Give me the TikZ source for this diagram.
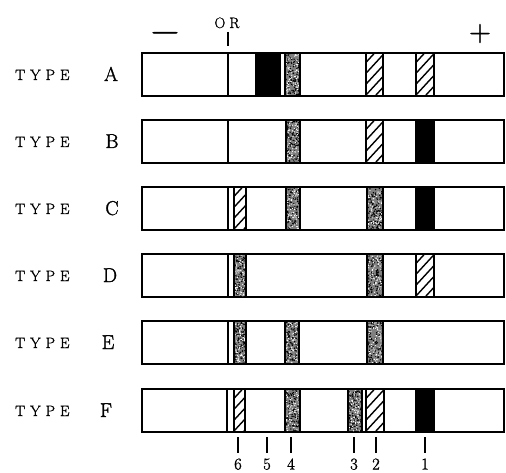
\documentclass[tikz,border=0pt]{standalone}
\usepackage{fontspec}
\setmainfont{Latin Modern Roman}[FakeBold=1.4]
\usetikzlibrary{calc}
\newcommand{\sz}[1]{\fontsize{#1pt}{#1pt}\selectfont}
\tikzset{
  strip/.style={draw, line width=1.4pt},
  bandedge/.style={line width=1.1pt},
  typelab/.style={anchor=base west, inner sep=0pt},
  letlab/.style={anchor=base, inner sep=0pt},
  numlab/.style={anchor=base, inner sep=0pt},
  ticks/.style={line width=1.4pt},
}
% #1 = top y of the strip, #2 = left x, #3 = right x
\newcommand{\originline}[2]{\draw[bandedge] (#2,#1) -- (#2,#1+42);}
\newcommand{\blackband}[3]{\filldraw[bandedge] (#2,#1) rectangle (#3,#1+42);}
\newcommand{\hatchband}[3]{%
  \begin{scope}
    \clip (#2,#1) rectangle (#3,#1+42);
    \foreach \k in {-6,...,3}{\draw[line width=1.4pt] (#2+\k*10,#1+42) -- ++(46,-50);}
  \end{scope}
  \draw[bandedge] (#2,#1) -- (#2,#1+42) (#3,#1) -- (#3,#1+42);}
\newcommand{\stipband}[3]{%
  \begin{scope}
    \clip (#2,#1) rectangle (#3,#1+42);
    \fill[black!50] (#2,#1) rectangle (#3,#1+42);
    \foreach \k in {1,...,110}{\fill[black] ({#2+rnd*(#3-#2)},{#1+rnd*42}) circle[radius=0.8pt];}
    \foreach \k in {1,...,80}{\fill[white] ({#2+rnd*(#3-#2)},{#1+rnd*42}) circle[radius=0.65pt];}
  \end{scope}
  \draw[bandedge] (#2,#1) -- (#2,#1+42) (#3,#1) -- (#3,#1+42);}
\begin{document}
\begin{tikzpicture}[x=1pt,y=-1pt]
\pgfmathsetseed{4711}
\useasboundingbox[fill=white] (0,0) rectangle (506,473);

% strips
\foreach \t/\nm in {53/A,120/B,187/C,254/D,321/E,389/F}{
  \node[strip, minimum width=361pt, minimum height=42pt, anchor=north west, inner sep=0pt] (strip\nm) at (142,\t) {};
}

% Type A
\originline{53}{228}
\blackband{53}{256}{280}
\stipband{53}{285}{300}
\hatchband{53}{366}{383}
\hatchband{53}{416}{434}
% Type B
\originline{120}{228}
\stipband{120}{286}{300}
\hatchband{120}{366}{383}
\blackband{120}{416}{434}
% Type C
\originline{187}{228}
\hatchband{187}{234}{246}
\stipband{187}{286}{300}
\stipband{187}{367}{383}
\blackband{187}{416}{434}
% Type D
\originline{254}{228}
\stipband{254}{234}{246}
\stipband{254}{367}{383}
\hatchband{254}{416}{434}
% Type E
\originline{321}{228}
\stipband{321}{234}{246}
\stipband{321}{285}{299}
\stipband{321}{367}{383}
% Type F
\originline{389}{227}
\hatchband{389}{234}{245}
\stipband{389}{285}{300}
\stipband{389}{348}{362}
\hatchband{389}{366}{384}
\blackband{389}{416}{434}

% strip borders on top
\foreach \nm in {A,B,C,D,E,F}{
  \draw[line width=1.4pt] (strip\nm.north west) rectangle (strip\nm.south east);
}

% row labels
\foreach \t/\nm/\lx in {53/A/111,120/B/112,187/C/112,254/D/110,321/E/108,389/F/106}{
  \node[typelab] (type\nm) at (15,\t+27) {\sz{15}T\kern5pt Y\kern5pt P\kern5pt E};
  \node[letlab] (let\nm) at (\lx,\t+28) {\sz{20}\nm};
}

% top marks
\node[anchor=base, inner sep=0pt] (minus) at (165,42.5) {\sz{39}−};
\node[anchor=base, inner sep=0pt] (plus) at (480,41) {\sz{30}+};
\node[anchor=base, inner sep=0pt] (orlab) at (227,28) {\sz{15}O\kern4pt R};
\coordinate (ortop) at (228,32);
\coordinate (orbot) at (228,46);
\draw[ticks] (ortop) -- (orbot);

% bottom ticks and numbers
\foreach \x/\n in {238/6,267/5,291/4,354/3,376/2,425/1}{
  \coordinate (tt\n) at (\x,437);
  \coordinate (tb\n) at (\x,453);
  \draw[ticks] (tt\n) -- (tb\n);
  \node[numlab] (num\n) at (\x,469.5) {\sz{16.5}\n};
}
\end{tikzpicture}
\end{document}
